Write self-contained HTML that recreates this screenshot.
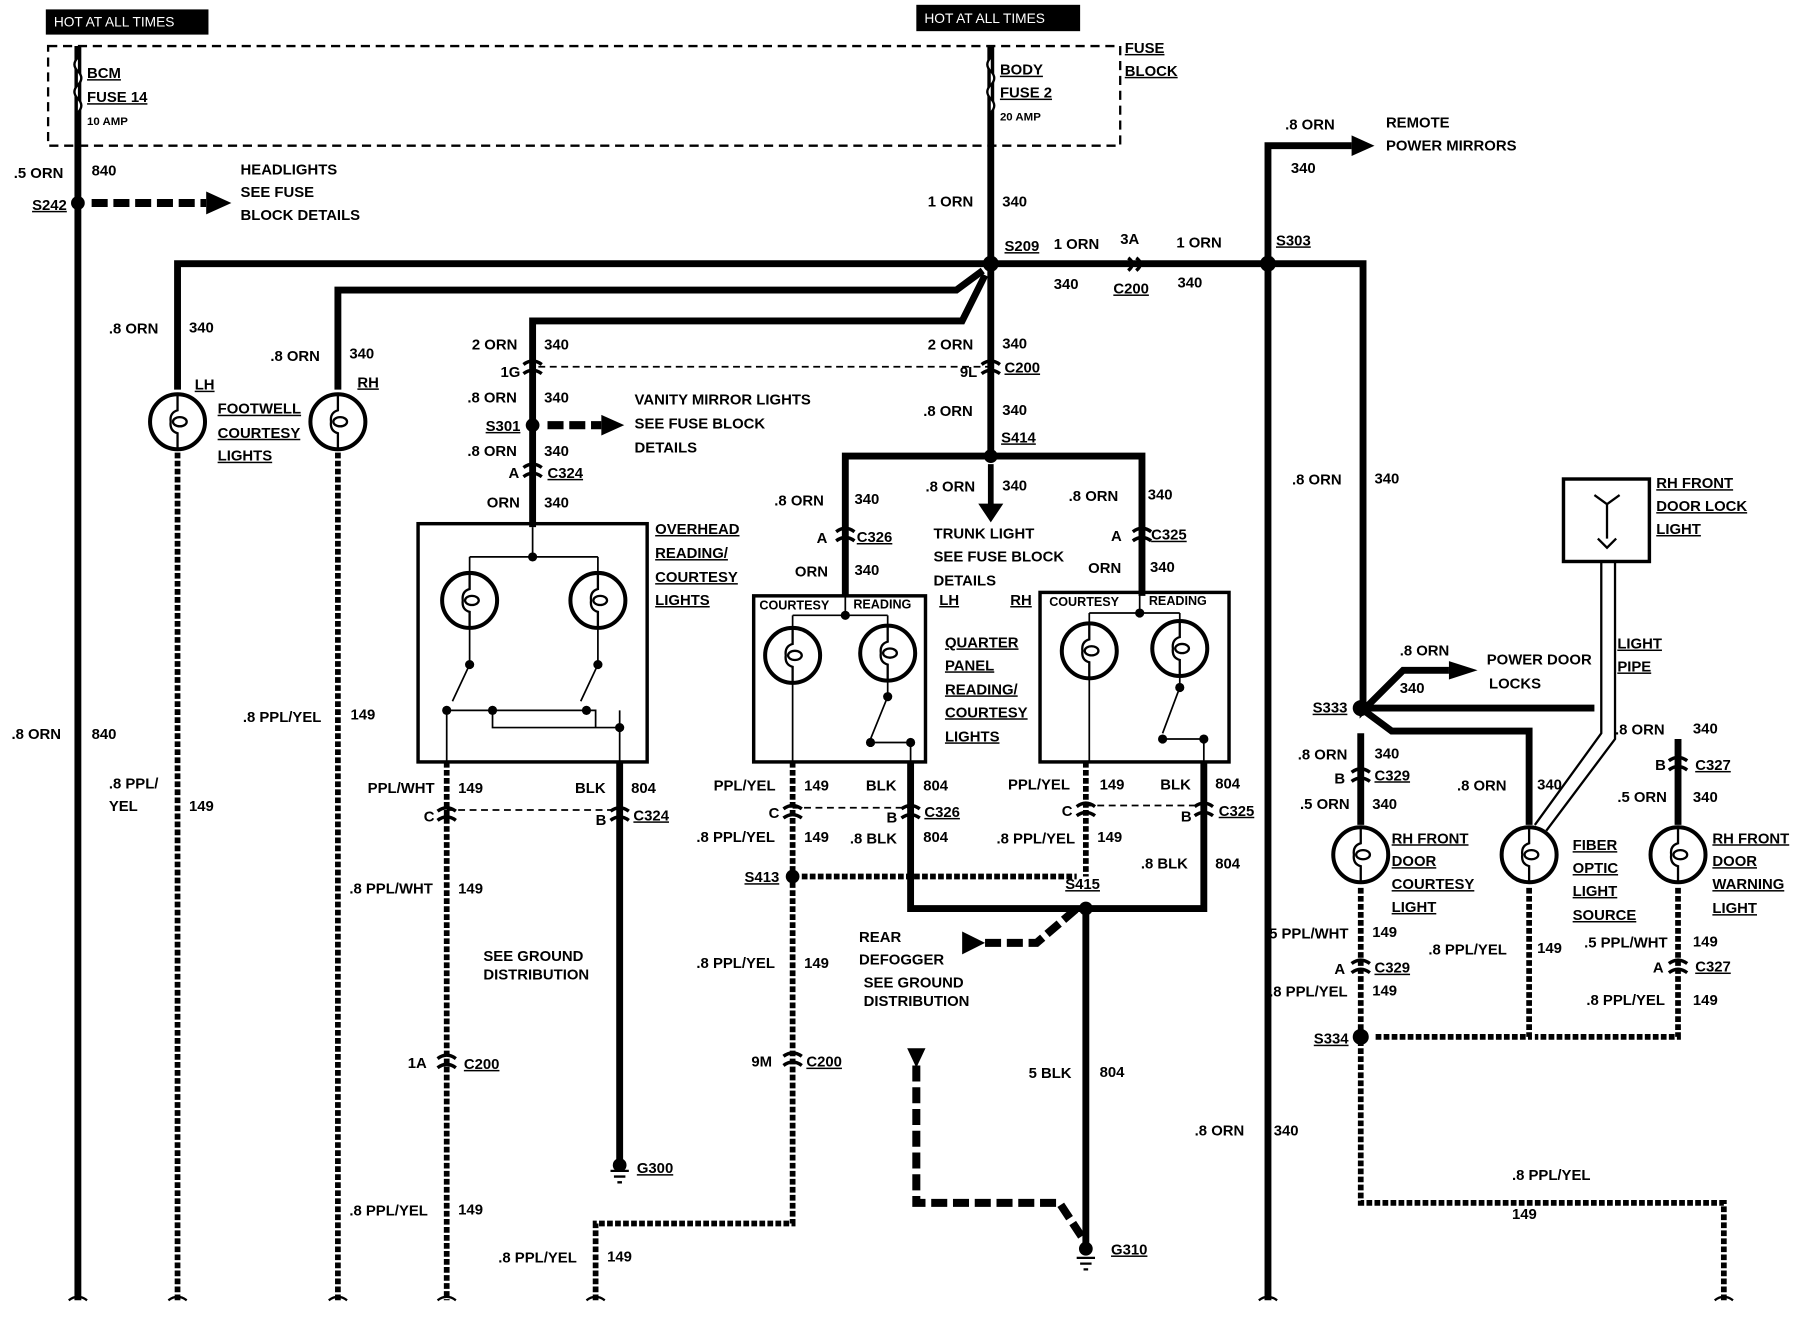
<!DOCTYPE html>
<html><head><meta charset="utf-8"><style>
html,body{margin:0;padding:0;background:#fff;}
svg{display:block}
text{font-family:"Liberation Sans",sans-serif;font-weight:bold;font-size:13px;fill:#000}
.u{text-decoration:underline}
</style></head><body>
<svg width="1796" height="1328" viewBox="0 0 1568 1159" xmlns="http://www.w3.org/2000/svg">
<defs>
<g id="lamp"><circle r="24" fill="none" stroke="#000" stroke-width="3.5"/><path d="M0,-24 V-10 Q-7,-8 -6,0 Q-7,8 0,10 V24" fill="none" stroke="#000" stroke-width="2"/><ellipse cx="2" cy="0" rx="6" ry="4" fill="none" stroke="#000" stroke-width="2"/></g>
<g id="conn"><path d="M-8,-4 Q0,-10 8,-4 M-8,4 Q0,-2 8,4" fill="none" stroke="#000" stroke-width="3"/></g>
</defs>
<g fill="none" stroke="#000" stroke-linecap="butt">
<rect x="42" y="40" width="936" height="87" stroke-width="2" stroke-dasharray="8,5"/>
<g stroke-width="6">
<path d="M68,40 V1135"/>
<path d="M865,40 V230"/>
<path d="M865,230 H155 V340"/>
<path d="M858,236 L835,253 H295 V340"/>
<path d="M860,240 L840,280 H465 V460"/>
<path d="M865,230 V400 M865,398 H738 V520 M865,398 H997 V520"/>
<path d="M865,230 H1107 V1135 M1107,230 V127 H1180"/>
<path d="M1107,230 H1190 V620 L1225,585 H1265"/>
<path d="M1188,618 H1392 M1188,618 L1215,638 H1335 V720"/>
<path d="M1465,645 V720"/>
<path d="M1188,640 V720"/>
<path d="M541,665 V1012"/>
<path d="M795,665 V793 H1051 V665"/>
<path d="M948,793 V1085"/>
</g>
<path d="M865,405 V440" stroke-width="5"/>
<path d="M855,440 L865,455 L875,440 Z" fill="#000"/>
<path d="M1180,118 L1200,127 L1180,136 Z" fill="#000" stroke="none"/>
<path d="M1265,577 L1290,585 L1265,593 Z" fill="#000" stroke="none"/>
<g stroke-width="7" stroke-dasharray="14,5">
<path d="M80,177 H180"/>
<path d="M478,371 H525"/>
<path d="M860,823 H905 L940,793" />
<path d="M800,930 V1050 H925 L948,1085"/>
</g>
<path d="M180,167 L202,177 L180,187 Z" fill="#000" stroke="none"/>
<path d="M525,362 L545,371 L525,380 Z" fill="#000" stroke="none"/>
<path d="M840,813 L860,823 L840,833 Z" fill="#000" stroke="none"/>
<path d="M792,915 L808,915 L800,932 Z" fill="#000" stroke="none"/>
<g stroke-width="5" stroke-dasharray="5,2">
<path d="M155,395 V1135"/>
<path d="M295,395 V1135"/>
<path d="M390,665 V1135"/>
<path d="M692,665 V1068 H520 V1135"/>
<path d="M948,665 V765"/>
<path d="M700,765 H940"/>
<path d="M1188,775 V1050 H1505 V1135"/>
<path d="M1335,775 V905 H1200"/>
<path d="M1465,775 V905 H1340"/>
</g>
<g stroke-width="1.5" stroke-dasharray="6,4">
<path d="M470,320 H865"/>
<path d="M390,707 H541"/>
<path d="M692,705 H795"/>
<path d="M948,703 H1051"/>
</g>
<g stroke-width="3">
<rect x="365" y="457" width="200" height="208"/>
<rect x="658" y="520" width="150" height="145"/>
<rect x="908" y="517" width="165" height="148"/>
<rect x="1365" y="418" width="75" height="72"/>
</g>
<g stroke-width="1.5">
<path d="M410,486 H522 M465,460 V486 M410,486 V500 M522,486 V500"/>
<path d="M410,548 V580 L395,612 M522,548 V580 L507,612"/>
<path d="M390,620 V665 M541,620 V665 M390,620 H430 V635 H541 M410,620 H520 V635"/>
<path d="M692,537 H775 M738,520 V537 M692,537 V550 M775,537 V550 M692,595 V665 M775,595 V608 L760,645 M760,648 H795 V665"/>
<path d="M951,535 H1030 M995,517 V535 M951,535 V545 M1030,535 V545 M951,590 V665 M1030,590 V600 L1015,640 M1015,645 H1051 V665"/>
</g>
<g fill="#000" stroke="none">
<circle cx="465" cy="486" r="4"/><circle cx="410" cy="580" r="4"/><circle cx="522" cy="580" r="4"/>
<circle cx="390" cy="620" r="4"/><circle cx="430" cy="620" r="4"/><circle cx="512" cy="620" r="4"/><circle cx="541" cy="635" r="4"/>
<circle cx="738" cy="537" r="4"/><circle cx="775" cy="608" r="4"/><circle cx="760" cy="648" r="4"/><circle cx="795" cy="648" r="4"/>
<circle cx="995" cy="535" r="4"/><circle cx="1030" cy="600" r="4"/><circle cx="1015" cy="645" r="4"/><circle cx="1051" cy="645" r="4"/>
<circle cx="68" cy="177" r="6"/><circle cx="865" cy="230" r="7"/><circle cx="1107" cy="230" r="7"/>
<circle cx="465" cy="371" r="6"/><circle cx="865" cy="398" r="6"/><circle cx="1188" cy="618" r="7"/>
<circle cx="692" cy="765" r="6"/><circle cx="948" cy="793" r="6"/><circle cx="1188" cy="905" r="7"/>
</g>
<use href="#lamp" x="155" y="368"/><use href="#lamp" x="295" y="368"/>
<use href="#lamp" x="410" y="524"/><use href="#lamp" x="522" y="524"/>
<use href="#lamp" x="692" y="572"/><use href="#lamp" x="775" y="570"/>
<use href="#lamp" x="951" y="568"/><use href="#lamp" x="1030" y="566"/>
<use href="#lamp" x="1188" y="746"/><use href="#lamp" x="1335" y="746"/><use href="#lamp" x="1465" y="746"/>
<path d="M68,50 q-6,6 0,12 q6,6 0,12 q-6,6 0,12 q6,6 0,12" stroke-width="2" fill="#fff"/>
<path d="M865,50 q-6,6 0,12 q6,6 0,12 q-6,6 0,12 q6,6 0,12" stroke-width="2" fill="#fff"/>
<path d="M1398,490 V640 L1340,720 M1410,490 V645 L1350,725" stroke-width="2"/>
<path d="M1403,470 V440 M1403,440 L1392,432 M1403,440 L1414,432 M1395,470 L1403,478 L1411,470" stroke-width="2"/>
<path d="M533,1022 H549 M536,1027 H546 M539,1032 H543" stroke-width="2"/>
<path d="M940,1098 H956 M943,1103 H953 M946,1108 H950" stroke-width="2"/>
<path d="M60,1135 q8,-6 16,0 M147,1135 q8,-6 16,0 M287,1135 q8,-6 16,0 M382,1135 q8,-6 16,0 M512,1135 q8,-6 16,0 M1099,1135 q8,-6 16,0 M1497,1135 q8,-6 16,0" stroke-width="2"/>
</g>
<g fill="#000">
<circle cx="541" cy="1017" r="6"/><circle cx="948" cy="1090" r="6"/>
</g>
<g>
<use href="#conn" x="465" y="322"/><use href="#conn" x="865" y="322"/><use href="#conn" x="465" y="412"/>
<use href="#conn" x="738" y="468"/><use href="#conn" x="997" y="468"/>
<use href="#conn" x="390" y="712"/><use href="#conn" x="541" y="712"/>
<use href="#conn" x="692" y="710"/><use href="#conn" x="795" y="710"/>
<use href="#conn" x="948" y="708"/><use href="#conn" x="1051" y="708"/>
<use href="#conn" x="390" y="928"/><use href="#conn" x="692" y="926"/>
<use href="#conn" x="1188" y="678"/><use href="#conn" x="1465" y="668"/>
<use href="#conn" x="1188" y="845"/><use href="#conn" x="1465" y="845"/>
</g>
<path d="M985,225 Q992,230 985,236 M992,225 Q999,230 992,236" fill="none" stroke="#000" stroke-width="3"/>
<rect x="40" y="8" width="142" height="22" fill="#000"/>
<text x="47" y="23" style="fill:#fff;font-size:12px;font-weight:normal">HOT AT ALL TIMES</text>
<rect x="800" y="4" width="143" height="23" fill="#000"/>
<text x="807" y="20" style="fill:#fff;font-size:12px;font-weight:normal">HOT AT ALL TIMES</text>
<g>
<text x="76" y="68" class="u">BCM</text><text x="76" y="89" class="u">FUSE 14</text><text x="76" y="109" style="font-size:10px">10 AMP</text>
<text x="873" y="65" class="u">BODY</text><text x="873" y="85" class="u">FUSE 2</text><text x="873" y="105" style="font-size:10px">20 AMP</text>
<text x="982" y="46" class="u">FUSE</text><text x="982" y="66" class="u">BLOCK</text>
<text x="12" y="155">.5 ORN</text><text x="80" y="153">840</text>
<text x="28" y="183" class="u">S242</text>
<text x="210" y="152">HEADLIGHTS</text><text x="210" y="172">SEE FUSE</text><text x="210" y="192">BLOCK DETAILS</text>
<text x="810" y="180">1 ORN</text><text x="875" y="180">340</text>
<text x="877" y="219" class="u">S209</text><text x="920" y="217">1 ORN</text><text x="978" y="213">3A</text><text x="1027" y="216">1 ORN</text>
<text x="920" y="252">340</text><text x="972" y="256" class="u">C200</text><text x="1028" y="251">340</text>
<text x="1114" y="214" class="u">S303</text>
<text x="1122" y="113">.8 ORN</text><text x="1127" y="151">340</text>
<text x="1210" y="111">REMOTE</text><text x="1210" y="131">POWER MIRRORS</text>
<text x="95" y="291">.8 ORN</text><text x="165" y="290">340</text>
<text x="236" y="315">.8 ORN</text><text x="305" y="313">340</text>
<text x="170" y="340" class="u">LH</text><text x="312" y="338" class="u">RH</text>
<text x="190" y="361" class="u">FOOTWELL</text><text x="190" y="382" class="u">COURTESY</text><text x="190" y="402" class="u">LIGHTS</text>
<text x="412" y="305">2 ORN</text><text x="475" y="305">340</text>
<text x="437" y="329">1G</text>
<text x="408" y="351">.8 ORN</text><text x="475" y="351">340</text>
<text x="424" y="376" class="u">S301</text>
<text x="408" y="398">.8 ORN</text><text x="475" y="398">340</text>
<text x="444" y="417">A</text><text x="478" y="417" class="u">C324</text>
<text x="425" y="443">ORN</text><text x="475" y="443">340</text>
<text x="554" y="353">VANITY MIRROR LIGHTS</text><text x="554" y="374">SEE FUSE BLOCK</text><text x="554" y="395">DETAILS</text>
<text x="810" y="305">2 ORN</text><text x="875" y="304">340</text>
<text x="838" y="329">9L</text><text x="877" y="325" class="u">C200</text>
<text x="806" y="363">.8 ORN</text><text x="875" y="362">340</text>
<text x="874" y="386" class="u">S414</text>
<text x="808" y="429">.8 ORN</text><text x="875" y="428">340</text>
<text x="815" y="470">TRUNK LIGHT</text><text x="815" y="490">SEE FUSE BLOCK</text><text x="815" y="511">DETAILS</text>
<text x="676" y="441">.8 ORN</text><text x="746" y="440">340</text>
<text x="713" y="474">A</text><text x="748" y="473" class="u">C326</text>
<text x="694" y="503">ORN</text><text x="746" y="502">340</text>
<text x="933" y="437">.8 ORN</text><text x="1002" y="436">340</text>
<text x="970" y="472">A</text><text x="1005" y="471" class="u">C325</text>
<text x="950" y="500">ORN</text><text x="1004" y="499">340</text>
<text x="572" y="466" class="u">OVERHEAD</text><text x="572" y="487" class="u">READING/</text><text x="572" y="508" class="u">COURTESY</text><text x="572" y="528" class="u">LIGHTS</text>
<text x="663" y="532" style="font-size:11px">COURTESY</text><text x="745" y="531" style="font-size:11px">READING</text>
<text x="916" y="529" style="font-size:11px">COURTESY</text><text x="1003" y="528" style="font-size:11px">READING</text>
<text x="820" y="528" class="u">LH</text><text x="882" y="528" class="u">RH</text>
<text x="825" y="565" class="u">QUARTER</text><text x="825" y="585" class="u">PANEL</text><text x="825" y="606" class="u">READING/</text><text x="825" y="626" class="u">COURTESY</text><text x="825" y="647" class="u">LIGHTS</text>
<text x="10" y="645">.8 ORN</text><text x="80" y="645">840</text>
<text x="95" y="688">.8 PPL/</text><text x="95" y="708">YEL</text><text x="165" y="708">149</text>
<text x="212" y="630">.8 PPL/YEL</text><text x="306" y="628">149</text>
<text x="321" y="692">PPL/WHT</text><text x="400" y="692">149</text><text x="502" y="692">BLK</text><text x="551" y="692">804</text>
<text x="370" y="717">C</text><text x="520" y="720">B</text><text x="553" y="716" class="u">C324</text>
<text x="305" y="780">.8 PPL/WHT</text><text x="400" y="780">149</text>
<text x="422" y="839">SEE GROUND</text><text x="422" y="855">DISTRIBUTION</text>
<text x="356" y="932">1A</text><text x="405" y="933" class="u">C200</text>
<text x="556" y="1024" class="u">G300</text>
<text x="305" y="1061">.8 PPL/YEL</text><text x="400" y="1060">149</text>
<text x="435" y="1102">.8 PPL/YEL</text><text x="530" y="1101">149</text>
<text x="623" y="690">PPL/YEL</text><text x="702" y="690">149</text><text x="756" y="690">BLK</text><text x="806" y="690">804</text>
<text x="671" y="714">C</text><text x="774" y="718">B</text><text x="807" y="713" class="u">C326</text>
<text x="608" y="735">.8 PPL/YEL</text><text x="702" y="735">149</text><text x="742" y="736">.8 BLK</text><text x="806" y="735">804</text>
<text x="650" y="770" class="u">S413</text>
<text x="608" y="845">.8 PPL/YEL</text><text x="702" y="845">149</text>
<text x="656" y="931">9M</text><text x="704" y="931" class="u">C200</text>
<text x="880" y="689">PPL/YEL</text><text x="960" y="689">149</text><text x="1013" y="689">BLK</text><text x="1061" y="688">804</text>
<text x="927" y="712">C</text><text x="1031" y="717">B</text><text x="1064" y="712" class="u">C325</text>
<text x="870" y="736">.8 PPL/YEL</text><text x="958" y="735">149</text><text x="996" y="758">.8 BLK</text><text x="1061" y="758">804</text>
<text x="930" y="776" class="u">S415</text>
<text x="750" y="822">REAR</text><text x="750" y="842">DEFOGGER</text>
<text x="754" y="862">SEE GROUND</text><text x="754" y="878">DISTRIBUTION</text>
<text x="898" y="941">5 BLK</text><text x="960" y="940">804</text>
<text x="970" y="1095" class="u">G310</text>
<text x="1128" y="423">.8 ORN</text><text x="1200" y="422">340</text>
<text x="1446" y="426" class="u">RH FRONT</text><text x="1446" y="446" class="u">DOOR LOCK</text><text x="1446" y="466" class="u">LIGHT</text>
<text x="1222" y="572">.8 ORN</text><text x="1222" y="605">340</text>
<text x="1298" y="580">POWER DOOR</text><text x="1300" y="601">LOCKS</text>
<text x="1412" y="566" class="u">LIGHT</text><text x="1412" y="586" class="u">PIPE</text>
<text x="1146" y="622" class="u">S333</text>
<text x="1410" y="641">.8 ORN</text><text x="1478" y="640">340</text>
<text x="1133" y="663">.8 ORN</text><text x="1200" y="662">340</text>
<text x="1165" y="684">B</text><text x="1200" y="681" class="u">C329</text>
<text x="1445" y="672">B</text><text x="1480" y="672" class="u">C327</text>
<text x="1272" y="690">.8 ORN</text><text x="1342" y="689">340</text>
<text x="1135" y="706">.5 ORN</text><text x="1198" y="706">340</text>
<text x="1412" y="700">.5 ORN</text><text x="1478" y="700">340</text>
<text x="1215" y="736" class="u">RH FRONT</text><text x="1215" y="756" class="u">DOOR</text><text x="1215" y="776" class="u">COURTESY</text><text x="1215" y="796" class="u">LIGHT</text>
<text x="1373" y="742" class="u">FIBER</text><text x="1373" y="762" class="u">OPTIC</text><text x="1373" y="782" class="u">LIGHT</text><text x="1373" y="803" class="u">SOURCE</text>
<text x="1495" y="736" class="u">RH FRONT</text><text x="1495" y="756" class="u">DOOR</text><text x="1495" y="776" class="u">WARNING</text><text x="1495" y="797" class="u">LIGHT</text>
<text x="1108" y="819">5 PPL/WHT</text><text x="1198" y="818">149</text>
<text x="1247" y="833">.8 PPL/YEL</text><text x="1342" y="832">149</text>
<text x="1383" y="827">.5 PPL/WHT</text><text x="1478" y="826">149</text>
<text x="1165" y="850">A</text><text x="1200" y="849" class="u">C329</text>
<text x="1443" y="849">A</text><text x="1480" y="848" class="u">C327</text>
<text x="1108" y="870">.8 PPL/YEL</text><text x="1198" y="869">149</text>
<text x="1385" y="877">.8 PPL/YEL</text><text x="1478" y="877">149</text>
<text x="1147" y="911" class="u">S334</text>
<text x="1043" y="991">.8 ORN</text><text x="1112" y="991">340</text>
<text x="1320" y="1030">.8 PPL/YEL</text><text x="1320" y="1064">149</text>
</g>
</svg>
</body></html>
